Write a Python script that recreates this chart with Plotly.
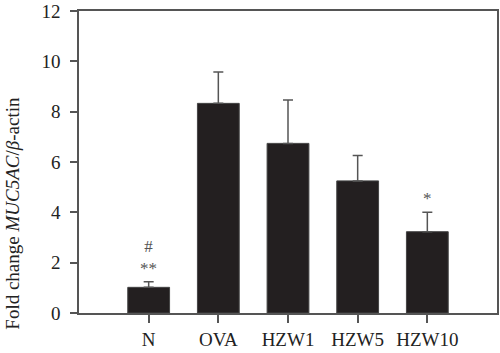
import plotly.graph_objects as go

categories = ["N", "OVA", "HZW1", "HZW5", "HZW10"]
values = [1.02, 8.33, 6.74, 5.25, 3.23]
errors = [0.22, 1.25, 1.72, 1.01, 0.77]
sig_labels = ["#<br>**", "", "", "", "*"]

xs = list(range(len(categories)))
FONT = "Liberation Serif, Times New Roman, serif"
AX = "#555555"

fig = go.Figure()
fig.add_trace(go.Bar(
    x=xs, y=values, width=0.6,
    marker=dict(color="#231f20", line=dict(color="#444444", width=1)),
    error_y=dict(type="data", symmetric=False, array=errors,
                 arrayminus=[0] * len(errors), color=AX, thickness=1.5, width=5),
    showlegend=False,
))

for x, v, e, s in zip(xs, values, errors, sig_labels):
    if s:
        fig.add_annotation(x=x, y=v + e, text=s, showarrow=False,
                           yanchor="bottom", yshift=2,
                           font=dict(family=FONT, size=17, color="#555555"))

fig.add_annotation(xref="paper", yref="paper", x=-67 / 420, y=0.33,
                   text="Fold change <i>MUC5AC</i>/<i>β</i>-actin",
                   textangle=-90, showarrow=False, xanchor="center", yanchor="middle",
                   font=dict(family=FONT, size=19, color="#222222"))

fig.update_layout(
    width=500, height=353,
    margin=dict(l=79, r=1, t=11, b=40),
    paper_bgcolor="white", plot_bgcolor="white",
    font=dict(family=FONT, size=16, color="#222222"),
    bargap=0.4,
)
fig.update_xaxes(
    range=[-1, 5], tickvals=xs, ticktext=categories,
    showgrid=False, zeroline=False,
    showline=True, linecolor=AX, linewidth=1.5, mirror=True,
    ticks="outside", ticklen=8, tickcolor=AX, tickwidth=1.5,
    tickfont=dict(family=FONT, size=19),
)
fig.update_yaxes(
    range=[0, 12], tickvals=[0, 2, 4, 6, 8, 10, 12],
    showgrid=False, zeroline=False,
    showline=True, linecolor=AX, linewidth=1.5, mirror=True,
    ticks="outside", ticklen=7, tickcolor=AX, tickwidth=1.5,
    ticklabelstandoff=6,
    tickfont=dict(family=FONT, size=19),
)

fig.write_html("out.html")
